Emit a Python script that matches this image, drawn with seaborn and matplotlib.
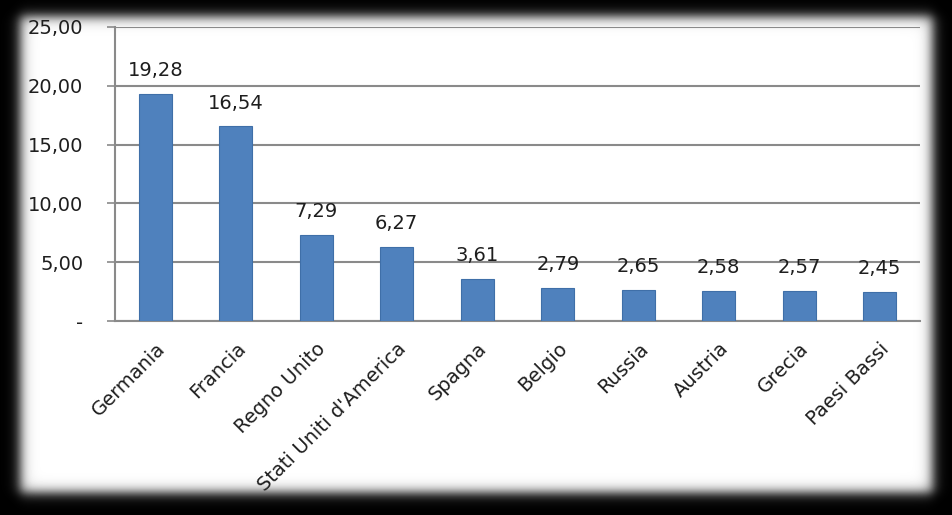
import numpy as np
import pandas as pd
import matplotlib
matplotlib.use("Agg")
import matplotlib.pyplot as plt
import seaborn as sns

paesi = ["Germania", "Francia", "Regno Unito", "Stati Uniti d'America", "Spagna",
         "Belgio", "Russia", "Austria", "Grecia", "Paesi Bassi"]
valori = [19.28, 16.54, 7.29, 6.27, 3.61, 2.79, 2.65, 2.58, 2.57, 2.45]
yticks = [0, 5, 10, 15, 20, 25]
ytick_labels = ["-", "5,00", "10,00", "15,00", "20,00", "25,00"]

sns.set_theme(style="white")
plt.rcParams['font.family'] = ['DejaVu Sans']

W, H = 952, 515
fig = plt.figure(figsize=(W / 100, H / 100), dpi=100)
fig.patch.set_facecolor("black")

# blurred white panel (decorative frame)
bg = fig.add_axes([0, 0, 1, 1], zorder=0)
yy, xx = np.mgrid[0:H, 0:W]
def soft(a, lo, hi, s):
    return 1 / (1 + np.exp(-(a - lo) / s)) * 1 / (1 + np.exp((a - hi) / s))
mask = soft(xx, 20, 932, 3.5) * soft(yy, 16, 492, 3.5)
bg.imshow(mask, cmap="gray", vmin=0, vmax=1, extent=[0, W, H, 0], aspect="auto",
          interpolation="bilinear")
bg.set_xlim(0, W); bg.set_ylim(H, 0)
bg.axis("off")

ax = fig.add_axes([115 / W, 1 - 321 / H, (920 - 115) / W, (321 - 27) / H], zorder=1)
ax.patch.set_alpha(0)
df = pd.DataFrame({"paese": paesi, "valore": valori})
sns.barplot(data=df, x="paese", y="valore", color="#4F81BD", width=0.41,
            edgecolor="#3f6fa8", linewidth=0.8, saturation=1, ax=ax, zorder=3)

FS = 14
TXT = "#1e1e1e"
ax.set_ylim(0, 25)
ax.set_xlim(-0.5, len(paesi) - 0.5)
ax.set_yticks(yticks)
ax.set_yticklabels(ytick_labels, fontsize=FS, color=TXT)
ax.yaxis.grid(True, color="#8a8a8a", linewidth=1.5, zorder=0)
ax.set_axisbelow(True)
ax.set_xlabel("")
ax.set_ylabel("")

ax.set_xticks(range(len(paesi)))
ax.set_xticklabels(paesi, rotation=45, ha="right", rotation_mode="anchor",
                   fontsize=FS, color=TXT)
ax.set_xticks(np.arange(-0.5, len(paesi), 1), minor=True)
ax.tick_params(axis="x", which="major", length=0, pad=13)
ax.tick_params(axis="x", which="minor", length=5, width=1.2, color="#8a8a8a", direction="out")
ax.tick_params(axis="y", which="major", length=5.8, width=1.2, color="#8a8a8a",
               direction="out", pad=17, left=True)

for s in ["top", "right"]:
    ax.spines[s].set_visible(False)
for s in ["left", "bottom"]:
    ax.spines[s].set_color("#8a8a8a")
    ax.spines[s].set_linewidth(1.5)

for c in ax.containers:
    ax.bar_label(c, labels=[f"{v:.2f}".replace(".", ",") for v in valori],
                 padding=10, fontsize=FS, color=TXT)

fig.savefig("out.png", dpi=100, facecolor="black")
